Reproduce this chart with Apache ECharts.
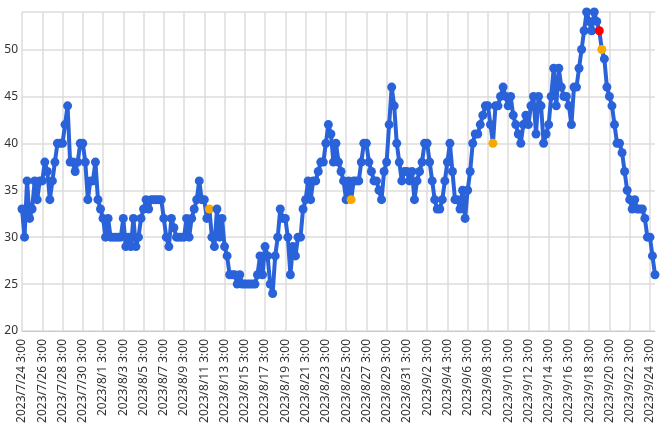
<!DOCTYPE html>
<html>
<head>
<meta charset="utf-8">
<script src="https://cdn.jsdelivr.net/npm/echarts@6/dist/echarts.min.js"></script>
<style>html,body{margin:0;padding:0;background:#fff}#c{width:670px;height:437px}</style>
</head>
<body>
<div id="c"></div>
<script>
// 每6小时一个点, 从 2023/7/24 3:00 开始
var startTime = new Date(2023, 6, 24, 3, 0);
var values = [
  33,30,36,32, 33,36,34,36, 36,38,37,34, 36,38,40,40, 40,42,44,38,
  38,37,38,40, 40,38,34,36, 36,38,34,33, 32,30,32,30, 30,30,30,30,
  32,29,30,29, 32,29,30,32, 33,34,33,34, 34,34,34,34, 32,30,29,32,
  31,30,30,30, 30,32,30,32, 33,34,36,34, 34,32,33,30, 29,33,30,32,
  29,28,26,26, 26,25,26,25, 25,25,25,25, 25,26,28,26, 29,28,25,24,
  28,30,33,32, 32,30,26,29, 28,30,30,33, 34,36,34,36, 36,37,38,38,
  40,42,41,38, 40,38,37,36, 34,36,34,36, 36,36,38,40, 40,38,37,36,
  36,35,34,37, 38,42,46,44, 40,38,36,37, 37,36,37,34, 36,37,38,40,
  40,38,36,34, 33,33,34,36, 38,40,37,34, 34,33,35,32, 35,37,40,41,
  41,42,43,44, 44,42,40,44, 44,45,46,45, 44,45,43,42, 41,40,42,43,
  42,44,45,41, 45,44,40,41, 42,45,48,44, 48,46,45,45, 44,42,46,46,
  48,50,52,54, 53,52,54,53, 52,50,49,46, 45,44,42,40, 40,39,37,35,
  34,33,34,33, 33,33,32,30, 30,28,26
];
var orangeIdx = [74, 130, 186, 229];
var redIdx = [228];

var categories = values.map(function (v, i) {
  var d = new Date(startTime.getTime() + i * 6 * 3600 * 1000);
  return d.getFullYear() + '/' + (d.getMonth() + 1) + '/' + d.getDate() + ' ' + d.getHours() + ':00';
});

var seriesData = values.map(function (v, i) {
  if (redIdx.indexOf(i) >= 0) return {value: v, itemStyle: {color: '#f00'}};
  if (orangeIdx.indexOf(i) >= 0) return {value: v, itemStyle: {color: '#f9a800'}};
  return v;
});

var myChart = echarts.init(document.getElementById('c'));
var option = {
  animation: false,
  grid: {left: 22, right: 15, top: 12, bottom: 106},
  xAxis: {
    type: 'category',
    boundaryGap: false,
    data: categories,
    axisLine: {lineStyle: {color: '#ccc'}},
    axisTick: {show: false},
    axisLabel: {interval: 7, rotate: 90, color: '#333', fontSize: 12, fontFamily: 'Noto Sans'},
    splitLine: {show: true, interval: 7, lineStyle: {color: '#ddd', width: 1.5}}
  },
  yAxis: {
    type: 'value',
    min: 20, max: 54, interval: 5,
    axisLabel: {color: '#333', fontSize: 12, margin: 4, fontFamily: 'Noto Sans', showMaxLabel: false,
      formatter: function (v) { return v % 5 === 0 ? v : ''; }},
    splitLine: {lineStyle: {color: '#ddd', width: 1.5}}
  },
  series: [{
    type: 'line',
    data: seriesData,
    symbol: 'circle',
    symbolSize: 9,
    showAllSymbol: true,
    lineStyle: {color: '#2962d9', width: 4},
    itemStyle: {color: '#2962d9'}
  }]
};
myChart.setOption(option);
</script>
</body>
</html>
